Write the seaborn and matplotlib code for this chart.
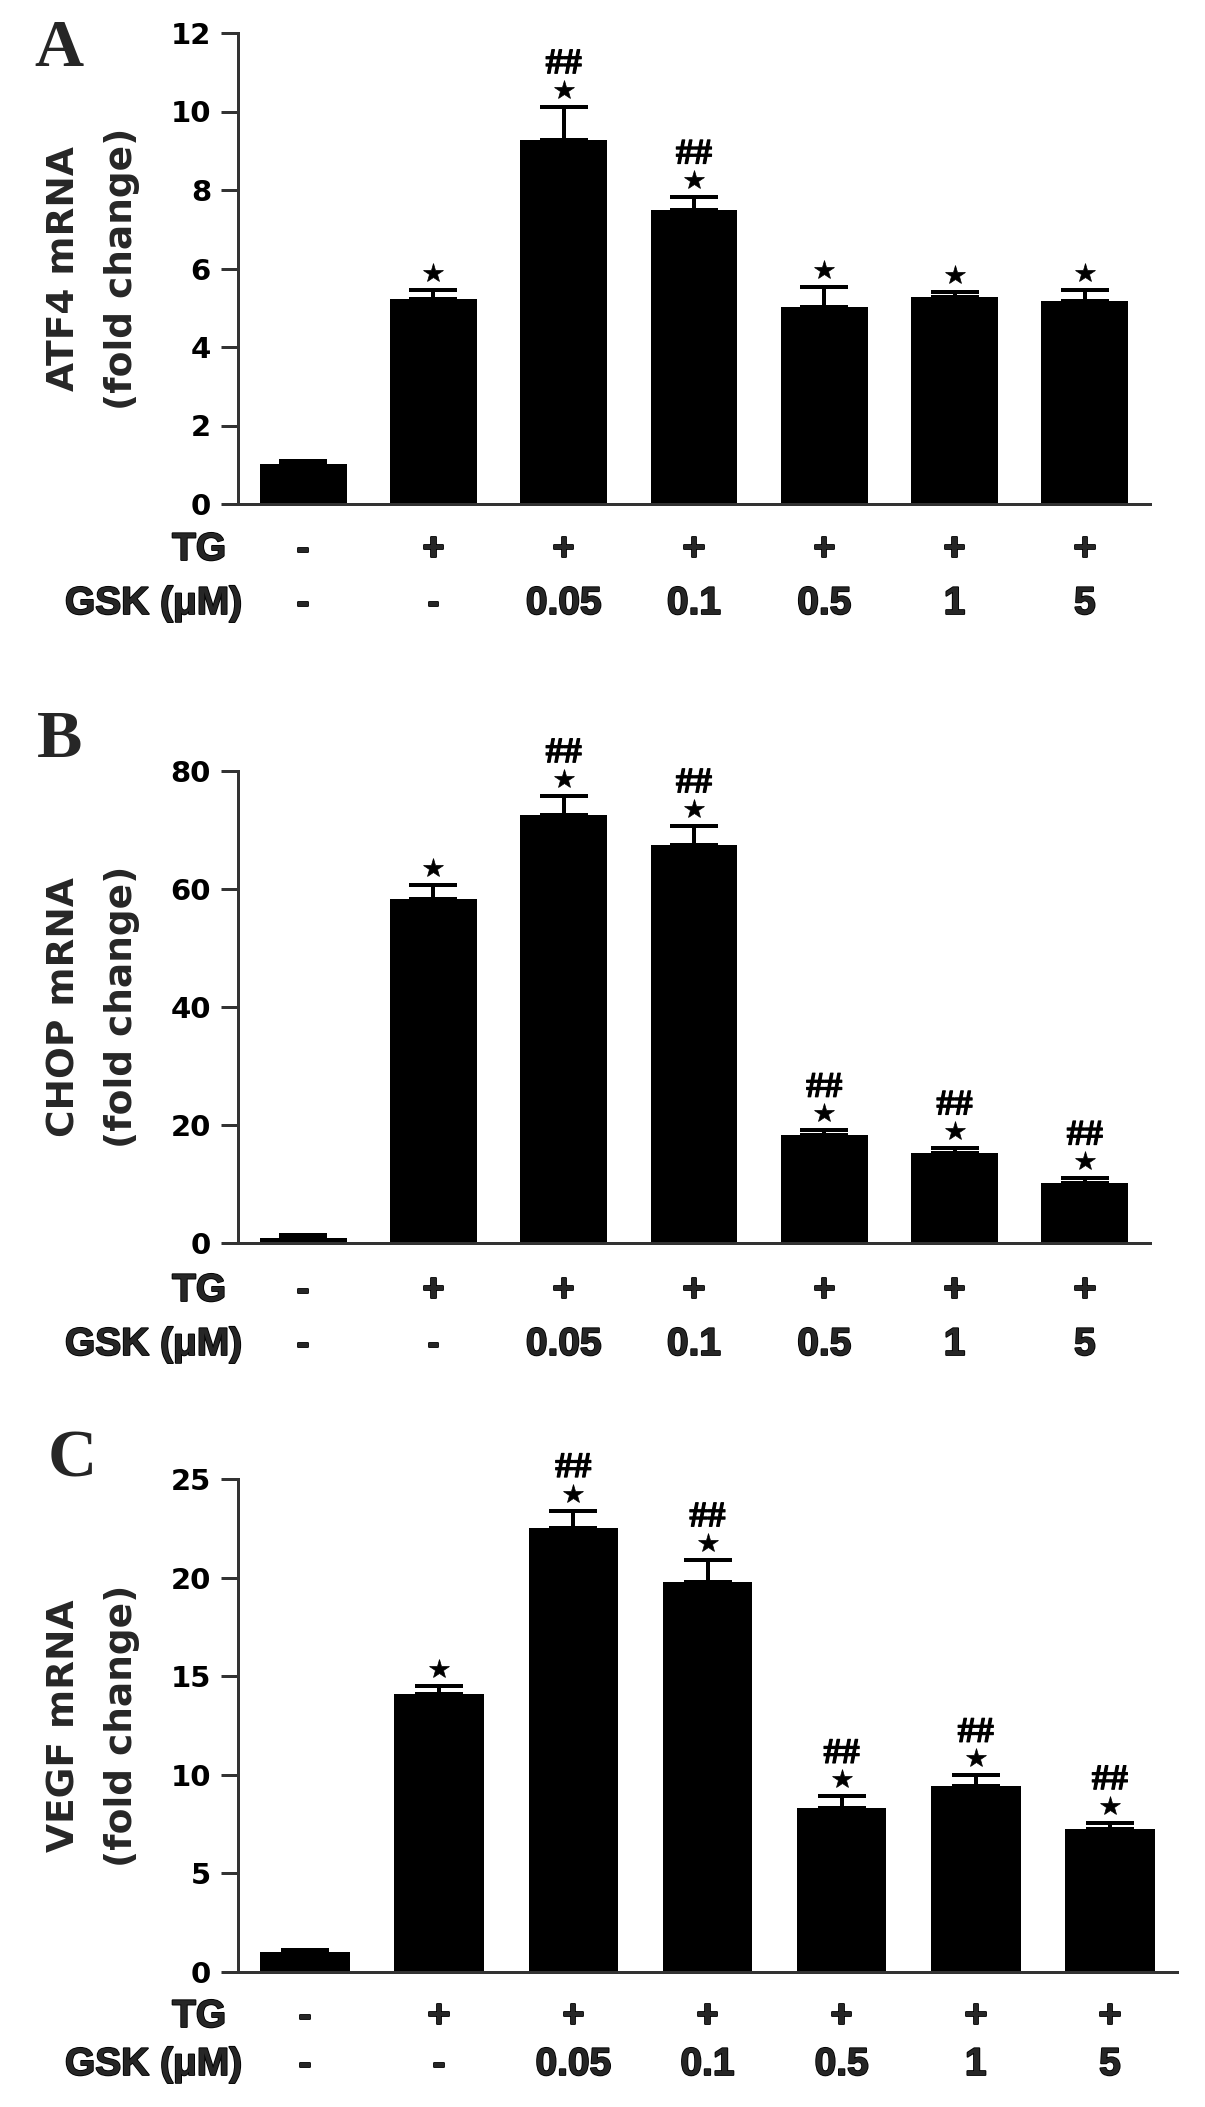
import numpy as np
import pandas as pd
import matplotlib
matplotlib.use("Agg")
import matplotlib.pyplot as plt
import matplotlib.patheffects as pe
from matplotlib.transforms import offset_copy
import seaborn as sns

# ---------------- data ----------------
categories = ["Ctrl", "TG", "TG+GSK0.05", "TG+GSK0.1", "TG+GSK0.5", "TG+GSK1", "TG+GSK5"]
tg_row = ["-", "+", "+", "+", "+", "+", "+"]
gsk_row = ["-", "-", "0.05", "0.1", "0.5", "1", "5"]

atf4_mean = [1.02, 5.22, 9.27, 7.48, 5.02, 5.27, 5.16]
atf4_sem = [0.07, 0.23, 0.85, 0.34, 0.52, 0.12, 0.28]
atf4_star = [0, 1, 1, 1, 1, 1, 1]
atf4_hash = [0, 0, 1, 1, 0, 0, 0]

chop_mean = [0.9, 58.3, 72.6, 67.5, 18.3, 15.3, 10.2]
chop_sem = [0.4, 2.4, 3.2, 3.2, 0.8, 0.8, 0.8]
chop_star = [0, 1, 1, 1, 1, 1, 1]
chop_hash = [0, 0, 1, 1, 1, 1, 1]

vegf_mean = [1.02, 14.1, 22.5, 19.8, 8.3, 9.42, 7.27]
vegf_sem = [0.12, 0.4, 0.9, 1.1, 0.6, 0.55, 0.3]
vegf_star = [0, 1, 1, 1, 1, 1, 1]
vegf_hash = [0, 0, 1, 1, 1, 1, 1]

panel_letters = ["A", "B", "C"]
ylabels = ["ATF4 mRNA\n(fold change)", "CHOP mRNA\n(fold change)", "VEGF mRNA\n(fold change)"]
ymax = [12, 80, 25]
ystep = [2, 20, 5]

# ---------------- style ----------------
sns.set_theme(style="ticks")
plt.rcParams["font.family"] = ["DejaVu Sans"]
plt.rcParams["font.weight"] = "bold"

W, H = 1205, 2107
PX = 72.0 / 100.0  # points per pixel at dpi 100
fig = plt.figure(figsize=(W / 100, H / 100), dpi=100)
fig.patch.set_facecolor("white")

boxes = [(238, 1150, 33, 504), (238, 1150, 771, 1243), (238, 1177, 1479, 1972)]
letter_pos = [(59, 50), (60, 740), (72, 1460)]
row_offsets = [(56, 110), (58, 112), (55, 103)]
SANS = ["Liberation Sans", "Arial", "DejaVu Sans"]
SERIF = ["Liberation Serif", "DejaVu Serif"]
heavy = [pe.withStroke(linewidth=1.3, foreground="black")]

spine_col = "#333333"
datasets = [
    (atf4_mean, atf4_sem, atf4_star, atf4_hash),
    (chop_mean, chop_sem, chop_star, chop_hash),
    (vegf_mean, vegf_sem, vegf_star, vegf_hash),
]

for k, (means, sems, stars, hashes) in enumerate(datasets):
    l, r, t, b = boxes[k]
    ax = fig.add_axes([l / W, 1 - b / H, (r - l) / W, (b - t) / H])
    df = pd.DataFrame({"group": categories, "value": means})
    sns.barplot(data=df, x="group", y="value", order=categories, color="black",
                saturation=1, width=0.667, errorbar=None, ax=ax, edgecolor="black", linewidth=0)
    xs = np.arange(len(categories))
    ax.errorbar(xs, means, yerr=[np.zeros(len(sems)), sems], fmt="none", ecolor="black",
                elinewidth=4 * PX, capsize=24 * PX, capthick=4 * PX, zorder=3)
    ax.set_xlim(-0.5, len(categories) - 0.5)
    ax.set_ylim(0, ymax[k])
    ticks = np.arange(0, ymax[k] + 0.01, ystep[k])
    ax.set_yticks(ticks)
    ax.set_yticklabels([str(int(v)) for v in ticks], fontsize=21, fontweight="bold")
    ax.set_xticks([])
    ax.set_xlabel("")
    ax.set_ylabel("")
    sns.despine(ax=ax)
    for s in ["left", "bottom"]:
        ax.spines[s].set_color(spine_col)
        ax.spines[s].set_linewidth(3 * PX)
    ax.tick_params(axis="y", direction="out", length=17 * PX, width=3 * PX,
                   color=spine_col, pad=10 * PX, labelcolor="black")
    ax.set_facecolor("white")

    # significance marks: stars as markers just above the error caps
    tops = np.array(means) + np.array(sems)
    star_idx = [i for i in range(len(categories)) if stars[i]]
    star_tr = offset_copy(ax.transData, fig=fig, x=0, y=17, units="dots")
    ax.plot(xs[star_idx], tops[star_idx], linestyle="none", marker="*", markersize=15,
            color="black", markeredgewidth=0.5, transform=star_tr, clip_on=False, zorder=4)
    for i in range(len(categories)):
        if hashes[i]:
            ax.annotate("##", xy=(i, tops[i]), xytext=(0, 42 * PX), textcoords="offset points",
                        ha="center", va="center", fontsize=26, fontweight="bold",
                        family=SERIF, color="black",
                        path_effects=[pe.withStroke(linewidth=0.8, foreground="black")])

    # condition rows
    off_tg, off_gsk = row_offsets[k]
    for i in range(len(categories)):
        ax.annotate(tg_row[i], xy=(i, 0), xytext=(0, -off_tg * PX), textcoords="offset points",
                    ha="center", va="baseline", fontsize=28, fontweight="bold", family=SANS,
                    path_effects=heavy)
        ax.annotate(gsk_row[i], xy=(i, 0), xytext=(0, -off_gsk * PX), textcoords="offset points",
                    ha="center", va="baseline", fontsize=28, fontweight="bold", family=SANS,
                    path_effects=heavy)
    ax.annotate("TG", xy=(0, 0), xycoords="axes fraction", xytext=(-12 * PX, -off_tg * PX),
                textcoords="offset points", ha="right", va="baseline", fontsize=28,
                fontweight="bold", family=SANS, path_effects=heavy)
    ax.annotate("GSK (\u03bcM)", xy=(0, 0), xycoords="axes fraction", xytext=(4 * PX, -off_gsk * PX),
                textcoords="offset points", ha="right", va="baseline", fontsize=28,
                fontweight="bold", family=SANS, path_effects=heavy)

    # y label
    fig.text(93 / W, 1 - ((t + b) / 2) / H, ylabels[k], rotation=90, ha="center", va="center",
             fontsize=27, fontweight="bold", linespacing=1.75, multialignment="center")
    # panel letter
    lx, ly = letter_pos[k]
    fig.text(lx / W, 1 - ly / H, panel_letters[k], ha="center", va="center", fontsize=49,
             fontweight="bold", family=SERIF)

fig.savefig("out.png", dpi=100, facecolor="white")
